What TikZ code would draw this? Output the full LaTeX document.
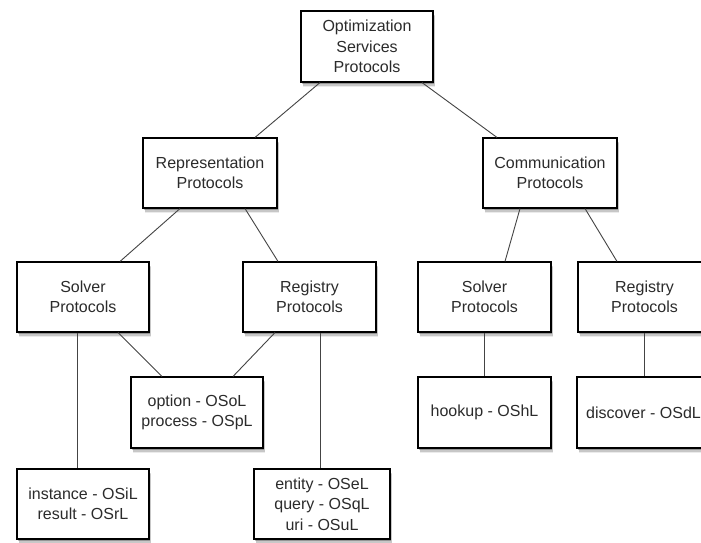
\documentclass[tikz,border=0pt]{standalone}
\usepackage{fontspec}
\setmainfont{Liberation Sans}
\usetikzlibrary{shadows,calc}
\definecolor{txt}{HTML}{2B2B2B}
\definecolor{ln}{HTML}{444444}
\begin{document}
\begin{tikzpicture}[x=1pt,y=-1pt,
  box/.style={draw=black, line width=1.1pt, fill=white, minimum height=70pt,
    minimum width=133pt, inner sep=0pt, align=center, text=txt,
    font=\fontsize{16}{20.5}\selectfont,
    drop shadow={shadow xshift=1pt, shadow yshift=-2pt, opacity=0.25, fill=black},
    drop shadow={shadow xshift=1.5pt, shadow yshift=-3.5pt, opacity=0.15, fill=black},
    drop shadow={shadow xshift=2pt, shadow yshift=-5pt, opacity=0.08, fill=black}},
  conn/.style={draw=ln, line width=0.9pt}]
\useasboundingbox (0,0) rectangle (701,542);
\fill[white] (0,0) rectangle (701,542);

\node[box, minimum height=71pt, minimum width=132pt] (top) at (367,46.5) {Optimization\\Services\\Protocols};
\node[box, minimum width=134pt] (rep) at (210,173) {Representation\\Protocols};
\node[box, minimum width=134pt] (comm) at (550,173) {Communication\\Protocols};
\node[box, minimum width=132pt] (solL) at (83,297) {Solver\\Protocols};
\node[box] (regM) at (309.5,297) {Registry\\Protocols};
\node[box] (solR) at (484.5,297) {Solver\\Protocols};
\node[box] (regR) at (644.5,297) {Registry\\Protocols};
\node[box, minimum width=132pt, minimum height=71pt] (opt) at (197,412.5) {option - OSoL\\process - OSpL};
\node[box, minimum height=71pt] (hook) at (484.5,412.5) {hookup - OShL};
\node[box, minimum height=71pt] (disc) at (643.5,412.5) {discover - OSdL};
\node[box, minimum width=132pt] (inst) at (83,504) {instance - OSiL\\result - OSrL};
\node[box, minimum width=136pt] (ent) at (322,504) {entity - OSeL\\query - OSqL\\uri - OSuL};

\draw[conn] ([xshift=-47pt]top.south) -- ([xshift=45pt]rep.north);
\draw[conn] ([xshift=55pt]top.south) -- ([xshift=-53pt]comm.north);
\draw[conn] ([xshift=-30pt]rep.south) -- ([xshift=37pt]solL.north);
\draw[conn] ([xshift=35pt]rep.south) -- ([xshift=-31.5pt]regM.north);
\draw[conn] ([xshift=-30pt]comm.south) -- ([xshift=20.5pt]solR.north);
\draw[conn] ([xshift=35pt]comm.south) -- ([xshift=-27.5pt]regR.north);
\draw[conn] ([xshift=35pt]solL.south) -- ([xshift=-35pt]opt.north);
\draw[conn] ([xshift=-34.5pt]regM.south) -- ([xshift=36pt]opt.north);
\draw[conn] ([xshift=-6pt]solL.south) -- ([xshift=-6pt]inst.north);
\draw[conn] ([xshift=10.5pt]regM.south) -- ([xshift=-2pt]ent.north);
\draw[conn] (solR.south) -- (hook.north);
\draw[conn] (regR.south) -- ([xshift=1pt]disc.north);
\end{tikzpicture}
\end{document}
